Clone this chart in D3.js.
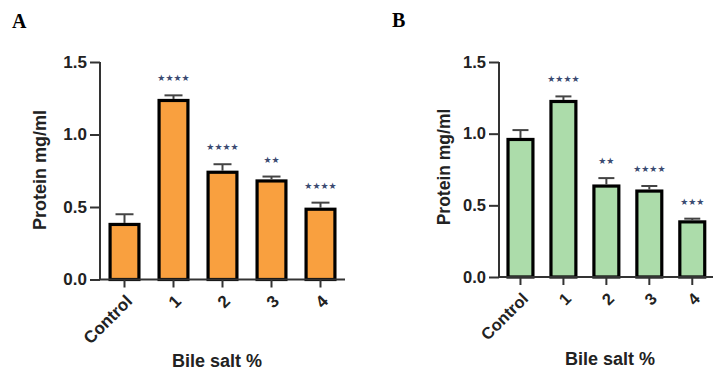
<!DOCTYPE html>
<html>
<head>
<meta charset="UTF-8"/>
<style>
  body { margin: 0; background: #fff; }
  svg text { font-family: "Liberation Sans", Arial, sans-serif; }
</style>
</head>
<body>
<script src="https://d3js.org/d3.v7.min.js"></script>
<script>
const categories = ["Control", "1", "2", "3", "4"];
const yTicks = [0, 0.5, 1.0, 1.5];

// panel A: mean, upper error, significance
const valuesA = [0.39, 1.245, 0.75, 0.69, 0.495];
const errorsA = [0.06, 0.025, 0.045, 0.02, 0.035];
const starsA = ["", "****", "****", "**", "****"];

// panel B
const valuesB = [0.97, 1.235, 0.645, 0.61, 0.395];
const errorsB = [0.055, 0.025, 0.045, 0.025, 0.012];
const starsB = ["", "****", "**", "****", "***"];

const width = 713, height = 372;
const svg = d3.select("body").append("svg")
    .attr("width", width)
    .attr("height", height);

function drawPanel(p) {
    const g = svg.append("g");
    const y = d3.scaleLinear().domain([0, 1.5]).range([p.y0, p.y1]);
    const x = d3.scaleBand().domain(categories).range([p.xStart, p.xEnd]).paddingInner(0.35).paddingOuter(0.175);

    // panel letter
    g.append("text")
        .attr("x", p.letterX).attr("y", p.letterY)
        .style("font-family", "'Liberation Serif', 'Times New Roman', serif")
        .attr("font-weight", "bold")
        .attr("font-size", "20px")
        .text(p.letter);

    // bars
    const bw = x.bandwidth();
    g.selectAll("rect.bar")
        .data(p.values)
        .enter()
        .append("rect")
        .attr("class", "bar")
        .attr("x", (d, i) => x(categories[i]) + 1.5)
        .attr("y", d => y(d) + 1.5)
        .attr("width", bw - 3)
        .attr("height", d => y(0) - y(d) - 1.5)
        .attr("fill", p.fill)
        .attr("stroke", "#000")
        .attr("stroke-width", 3.2);

    // error bars
    const eb = g.selectAll("g.err")
        .data(p.values)
        .enter()
        .append("g")
        .attr("stroke", "#444")
        .attr("stroke-width", 2);
    eb.append("line")
        .attr("x1", (d, i) => x(categories[i]) + bw / 2)
        .attr("x2", (d, i) => x(categories[i]) + bw / 2)
        .attr("y1", d => y(d))
        .attr("y2", (d, i) => y(d + p.errors[i]));
    eb.append("line")
        .attr("x1", (d, i) => x(categories[i]) + bw / 2 - p.cap)
        .attr("x2", (d, i) => x(categories[i]) + bw / 2 + p.cap)
        .attr("y1", (d, i) => y(d + p.errors[i]))
        .attr("y2", (d, i) => y(d + p.errors[i]));

    // significance stars
    g.selectAll("text.star")
        .data(p.stars)
        .enter()
        .append("text")
        .attr("x", (d, i) => x(categories[i]) + bw / 2)
        .attr("y", (d, i) => y(p.values[i] + p.errors[i]) - 14)
        .attr("text-anchor", "middle")
        .style("font-family", "'DejaVu Sans', sans-serif")
        .attr("font-size", "9px")
        .attr("fill", "#3a4a70")
        .text(d => d.replace(/\*/g, "\u2605"));

    // y axis
    const ya = g.append("g")
        .attr("transform", "translate(" + p.xStart + ",0)")
        .call(d3.axisLeft(y).tickValues(yTicks).tickFormat(d3.format(".1f")).tickSize(10).tickPadding(3));
    ya.select(".domain").attr("d", "M0," + y(1.5) + "V" + y(0));
    ya.selectAll("line, path").attr("stroke", "#333").attr("stroke-width", 2);
    ya.selectAll("text")
        .attr("font-size", p.fs + "px")
        .attr("font-weight", "bold")
        .attr("fill", "#222")
        .style("font-family", "'Liberation Sans', Arial, sans-serif");

    // x axis
    const xa = g.append("g")
        .attr("transform", "translate(0," + y(0) + ")")
        .call(d3.axisBottom(x).tickSize(8).tickSizeOuter(0));
    xa.select(".domain").attr("d", "M" + p.xStart + ",0H" + p.axisEnd);
    xa.selectAll("line, path").attr("stroke", "#333").attr("stroke-width", 2);
    xa.selectAll("text")
        .attr("font-size", p.fs + "px")
        .attr("font-weight", "bold")
        .attr("fill", "#222")
        .style("font-family", "'Liberation Sans', Arial, sans-serif")
        .attr("text-anchor", "end")
        .attr("dy", "0")
        .attr("transform", "translate(1,15) rotate(-45)");

    // axis titles
    g.append("text")
        .attr("transform", "translate(" + p.yTitleX + "," + p.yTitleY + ") rotate(-90)")
        .attr("text-anchor", "middle")
        .attr("font-size", (p.fs + 1) + "px")
        .attr("font-weight", "bold")
        .attr("fill", "#222")
        .text("Protein mg/ml");
    g.append("text")
        .attr("x", p.xTitleX)
        .attr("y", p.xTitleY)
        .attr("text-anchor", "middle")
        .attr("font-size", "18px")
        .attr("font-weight", "bold")
        .attr("fill", "#222")
        .text("Bile salt %");
}

drawPanel({
    letter: "A", letterX: 12, letterY: 28,
    values: valuesA, errors: errorsA, stars: starsA,
    fill: "#f9a03f",
    y0: 279.5, y1: 62,
    xStart: 100, xEnd: 345, axisEnd: 345,
    cap: 9, fs: 17,
    yTitleX: 46, yTitleY: 170,
    xTitleX: 217, xTitleY: 367
});

drawPanel({
    letter: "B", letterX: 392, letterY: 27,
    values: valuesB, errors: errorsB, stars: starsB,
    fill: "#acdcaa",
    y0: 277, y1: 62,
    xStart: 499, xEnd: 713.75, axisEnd: 713,
    cap: 8, fs: 16.5,
    yTitleX: 450, yTitleY: 167,
    xTitleX: 610, xTitleY: 365
});
</script>
</body>
</html>
